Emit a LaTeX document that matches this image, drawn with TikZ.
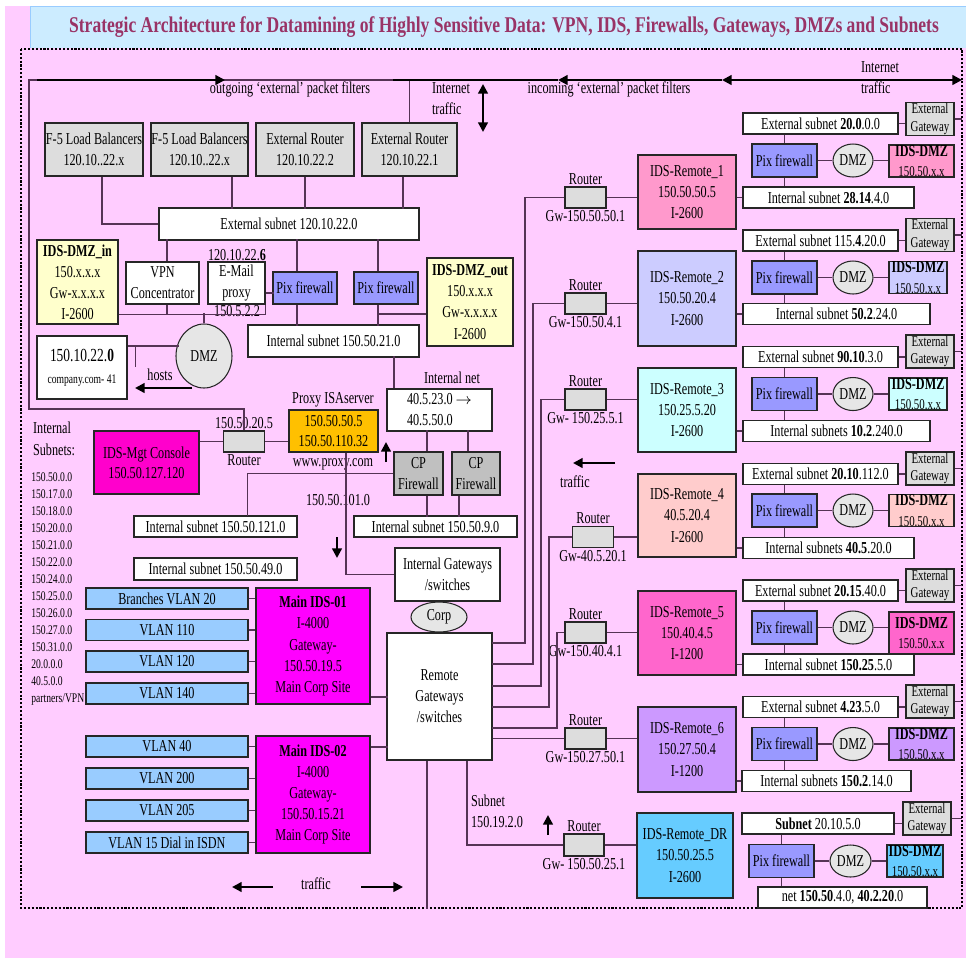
\documentclass[tikz,border=0pt]{standalone}
\usepackage{fontspec}
\setmainfont[FakeStretch=0.73]{Liberation Serif}
\newfontfamily\titlefam[FakeStretch=0.78]{Liberation Serif}
\usetikzlibrary{shapes.geometric, arrows.meta}

\definecolor{pagepink}{HTML}{FFCCFF}
\definecolor{titleblue}{HTML}{CCECFF}
\definecolor{titlered}{HTML}{993366}
\definecolor{boxgrey}{HTML}{DDDDDD}
\definecolor{ovalgrey}{HTML}{E6E6E6}
\definecolor{cpgrey}{HTML}{C0C0C0}
\definecolor{pixblue}{HTML}{9999FF}
\definecolor{paleyellow}{HTML}{FFFFCC}
\definecolor{proxyorange}{HTML}{FFC000}
\definecolor{mgtmagenta}{HTML}{FF00CC}
\definecolor{mainmagenta}{HTML}{FF00FF}
\definecolor{vlanblue}{HTML}{99CCFF}
\definecolor{remA}{HTML}{FF99CC}
\definecolor{remB}{HTML}{CCCCFF}
\definecolor{remC}{HTML}{CCFFFF}
\definecolor{remD}{HTML}{FFCCCC}
\definecolor{remE}{HTML}{FF66CC}
\definecolor{remF}{HTML}{CC99FF}
\definecolor{remG}{HTML}{66CCFF}
\definecolor{wirec}{HTML}{553355}

\newcommand\bxf{\fontsize{9.5}{11.5}\selectfont}
\newcommand\bxfl{\fontsize{9.5}{12}\selectfont}
\newcommand\smf{\fontsize{7.5}{9.67}\selectfont}
\newcommand\gwf{\fontsize{8.5}{10}\selectfont}
\newcommand\ttlf{\titlefam\fontsize{12.8}{14}\selectfont\bfseries}

\begin{document}
\begin{tikzpicture}[x=0.02cm, y=-0.02cm,
    >={Triangle[length=5.5pt,width=5.5pt]},
    base/.style={draw=black!85, line width=0.6pt, inner sep=0pt, align=center, font=\bxf},
    wh/.style 2 args={minimum width=#1*0.02cm, minimum height=#2*0.02cm},
    greybox/.style={base, fill=boxgrey},
    whitebox/.style={base, fill=white},
    pixbox/.style={base, fill=pixblue, wh={65}{33}},
    yellowbox/.style={base, fill=paleyellow, font=\bxfl},
    vlanbox/.style={base, fill=vlanblue, wh={162}{21}},
    routerbox/.style={base, fill=boxgrey, wh={41}{21}},
    gwbox/.style={base, fill=boxgrey, wh={48}{33}, font=\gwf},
    cpbox/.style={base, fill=cpgrey, font=\bxfl},
    oval/.style={ellipse, draw=black!85, line width=0.6pt, fill=ovalgrey, inner sep=0pt, font=\bxf},
    lbl/.style={inner sep=1pt, font=\bxf},
    wire/.style={draw=wirec, line width=0.7pt},
    heavy/.style={line width=1.3pt},
    frame/.style={line width=1.2pt, densely dotted}
  ]
  \useasboundingbox (0,0) rectangle (966,958);
  \fill[pagepink] (5,6) rectangle (966,958);
  \fill[titleblue] (30,6) rectangle (966,48);
  \draw[vlanblue] (30,48) -- (30,6) -- (966,6);
  \node[font=\ttlf, text=titlered, inner sep=0pt] (title) at (504,27)
    {Strategic Architecture for Datamining of Highly Sensitive Data: VPN, IDS, Firewalls, Gateways, DMZs and Subnets};

  % dotted frame
  \draw[frame] (21,49) rectangle (962,908);
  \coordinate (frameR) at (962,0);

  % packet filters at the top
  \node[lbl] (outlbl) at (290,89) {outgoing ‘external’ packet filters};
  \node[lbl] (inlbl) at (609,89) {incoming ‘external’ packet filters};
  \node[lbl, align=left, font=\bxfl] (inetA) at (451,99) {Internet\\traffic};
  \node[lbl, align=left, font=\bxfl] (inetB) at (880,78) {Internet\\traffic};

  % external side
  \node[greybox, wh={98}{53}, font=\bxfl] (lbA) at (94,149.5) {F-5 Load Balancers\\120.10..22.x};
  \node[greybox, wh={97}{53}, font=\bxfl] (lbB) at (199.5,149.5) {F-5 Load Balancers\\120.10..22.x};
  \node[greybox, wh={98}{53}, font=\bxfl] (erA) at (305,149.5) {External Router\\120.10.22.2};
  \node[greybox, wh={95}{53}, font=\bxfl] (erB) at (409.5,149.5) {External Router\\120.10.22.1};
  \node[whitebox, wh={260}{32}] (extsub) at (289,224) {External subnet 120.10.22.0};

  \node[yellowbox, wh={81}{84}] (dmzin) at (77.5,282) {\textbf{IDS-DMZ\_in}\\150.x.x.x\\Gw-x.x.x.x\\I-2600};
  \node[whitebox, wh={73}{42}, font=\bxfl] (vpn) at (162.5,283) {VPN\\Concentrator};
  \node[whitebox, wh={57}{42}, font=\bxfl] (mail) at (236.5,283) {E-Mail\\proxy};
  \node[lbl] (mailip) at (237,255) {120.10.22.\textbf{6}};
  \node[lbl] (mailnet) at (237,311) {150.5.2.2};
  \node[pixbox, wh={64}{32}] (pixA) at (305,288) {Pix firewall};
  \node[pixbox, wh={64}{32}] (pixB) at (386,288) {Pix firewall};
  \node[yellowbox, wh={86}{88}] (dmzout) at (470,302) {\textbf{IDS-DMZ\_out}\\150.x.x.x\\Gw-x.x.x.x\\I-2600};

  \node[oval, wh={56}{64}] (dmzA) at (204,356) {DMZ};
  \node[whitebox, wh={90}{63}] (hosts) at (82,367.5)
    {{\fontsize{10.5}{12}\selectfont 150.10.22.\textbf{0}}\\[1pt]{\smf company.com- 41}};
  \node[lbl] (hostslbl) at (160,375) {hosts};
  \node[whitebox, wh={171}{32}] (intsub21) at (333.5,341) {Internal subnet 150.50.21.0};

  % internal side
  \node[lbl] (intnetlbl) at (452,378) {Internal net};
  \node[whitebox, wh={105}{42}, align=left, font=\bxfl] (intnet) at (439.5,410) {40.5.23.0 $\rightarrow$\\40.5.50.0};
  \node[cpbox, wh={49}{43}] (cpA) at (418.5,473.5) {CP\\Firewall};
  \node[cpbox, wh={48}{43}] (cpB) at (476,473.5) {CP\\Firewall};
  \node[whitebox, wh={163}{21}] (intsub9) at (435.5,526.5) {Internal subnet 150.50.9.0};
  \node[whitebox, wh={163}{21}] (intsub121) at (215.5,526.5) {Internal subnet 150.50.121.0};
  \node[whitebox, wh={163}{22}] (intsub49) at (215.5,569) {Internal subnet 150.50.49.0};

  \node[base, fill=proxyorange, wh={89}{42}] (proxy) at (333.5,431) {150.50.50.5\\150.50.110.32};
  \node[lbl] (proxylbl) at (333,400) {Proxy ISAserver};
  \node[lbl] (proxyurl) at (333,464) {www.proxy.com};
  \node[lbl] (netlbl) at (338,500) {150.50.101.0};
  \node[routerbox, label={[lbl]above:150.50.20.5}, label={[lbl]below:Router}] (routerM) at (244,441.5) {};
  \node[base, fill=mgtmagenta, wh={105}{63}] (mgt) at (146.5,462.5) {IDS-Mgt Console\\150.50.127.120};

  \node[lbl, align=left, anchor=west, font=\fontsize{9.5}{12.5}\selectfont] (sublbl) at (31,439) {Internal\\Subnets:};
  \node[lbl, inner sep=0pt, align=left, anchor=north west, font=\smf] (sublist) at (31,472.5)
    {150.50.0.0\\150.17.0.0\\150.18.0.0\\150.20.0.0\\150.21.0.0\\150.22.0.0\\150.24.0.0\\150.25.0.0\\150.26.0.0\\150.27.0.0\\150.31.0.0\\20.0.0.0\\40.5.0.0\\partners/VPN};

  \node[vlanbox] (v20) at (167,598.5) {Branches VLAN 20};
  \node[vlanbox] (v110) at (167,630) {VLAN 110};
  \node[vlanbox] (v120) at (167,661.5) {VLAN 120};
  \node[vlanbox] (v140) at (167,693.5) {VLAN 140};
  \node[vlanbox] (v40) at (167,746.5) {VLAN 40};
  \node[vlanbox] (v200) at (167,778.5) {VLAN 200};
  \node[vlanbox] (v205) at (167,810.5) {VLAN 205};
  \node[vlanbox] (v15) at (167,842.5) {VLAN 15 Dial in ISDN};
  \node[base, fill=mainmagenta, wh={114}{116}, font=\bxfl] (main1) at (313,646)
    {\textbf{Main IDS-01}\\I-4000\\Gateway-\\150.50.19.5\\Main Corp Site};
  \node[base, fill=mainmagenta, wh={114}{117}, font=\bxfl] (main2) at (313,794.5)
    {\textbf{Main IDS-02}\\I-4000\\Gateway-\\150.50.15.21\\Main Corp Site};

  \node[whitebox, wh={105}{53}, font=\bxfl] (intgw) at (447.5,574.5) {Internal Gateways\\/switches};
  \node[oval, wh={56}{30}] (corp) at (439,617) {Corp};
  \node[whitebox, wh={105}{127}, font=\bxfl] (remgw) at (439.5,696.5) {Remote\\Gateways\\/switches};
  \node[lbl, align=left, anchor=west, font=\bxfl] (drsub) at (469,811) {Subnet\\150.19.2.0};
  \node[lbl] (trafficA) at (316,884) {traffic};
  \node[lbl] (trafficB) at (575,482) {traffic};

  % routers and remote IDS
  \node[routerbox, label={[lbl]above:Router}, label={[lbl]below:Gw-150.50.50.1}] (r1) at (585.5,197.5) {};
  \node[routerbox, label={[lbl]above:Router}, label={[lbl]below:Gw-150.50.4.1}] (r2) at (585.5,303.5) {};
  \node[routerbox, label={[lbl]above:Router}, label={[lbl]below:Gw- 150.25.5.1}] (r3) at (585.5,399.5) {};
  \node[routerbox, label={[lbl]above:Router}, label={[lbl]below:Gw-40.5.20.1}] (r4) at (593,537) {};
  \node[routerbox, label={[lbl]above:Router}, label={[lbl]below:Gw-150.40.4.1}] (r5) at (585.5,632.5) {};
  \node[routerbox, label={[lbl]above:Router}, label={[lbl]below:Gw-150.27.50.1}] (r6) at (585.5,738.5) {};
  \node[routerbox, wh={40}{22}, label={[lbl]above:Router}, label={[lbl]below:Gw- 150.50.25.1}] (r7) at (584,845) {};

  \node[base, fill=remA, wh={98}{74}, font=\bxfl] (ids1) at (687,192) {IDS-Remote\_1\\150.50.50.5\\I-2600};
  \node[base, fill=remB, wh={98}{95}, font=\bxfl] (ids2) at (687,298.5) {IDS-Remote\_2\\150.50.20.4\\I-2600};
  \node[base, fill=remC, wh={98}{84}, font=\bxfl] (ids3) at (687,410) {IDS-Remote\_3\\150.25.5.20\\I-2600};
  \node[base, fill=remD, wh={98}{83}, font=\bxfl] (ids4) at (687,515.5) {IDS-Remote\_4\\40.5.20.4\\I-2600};
  \node[base, fill=remE, wh={98}{84}, font=\bxfl] (ids5) at (687,633) {IDS-Remote\_5\\150.40.4.5\\I-1200};
  \node[base, fill=remF, wh={98}{85}, font=\bxfl] (ids6) at (687,749.5) {IDS-Remote\_6\\150.27.50.4\\I-1200};
  \node[base, fill=remG, wh={96}{85}, font=\bxfl] (ids7) at (685,855.5) {IDS-Remote\_DR\\150.50.25.5\\I-2600};

  % remote site 1
  \node[whitebox, wh={155}{21}] (ext1) at (820.5,123.5) {External subnet \textbf{20.0}.0.0};
  \node[gwbox] (gw1) at (930,119) {External\\Gateway};
  \node[pixbox] (pix1) at (784.5,160.5) {Pix firewall};
  \node[oval, wh={40}{33}] (dmz1) at (853,160.5) {DMZ};
  \node[base, fill=remA, wh={65}{32}] (idz1) at (921.5,161) {\textbf{IDS-DMZ}\\{\gwf 150.50.x.x}};
  \node[whitebox, wh={171}{21}] (int1) at (828.5,197.5) {Internal subnet \textbf{28.14}.4.0};
  % remote site 2
  \node[whitebox, wh={155}{21}] (ext2) at (820.5,240.5) {External subnet 115.\textbf{4}.20.0};
  \node[gwbox] (gw2) at (930,235) {External\\Gateway};
  \node[pixbox] (pix2) at (784.5,277.5) {Pix firewall};
  \node[oval, wh={40}{33}] (dmz2) at (853,277.5) {DMZ};
  \node[base, fill=remB, wh={58}{32}] (idz2) at (918,277.5) {\textbf{IDS-DMZ}\\{\gwf 150.50.x.x}};
  \node[whitebox, wh={187}{21}] (int2) at (836.5,314) {Internal subnet \textbf{50.2}.24.0};
  % remote site 3
  \node[whitebox, wh={155}{21}] (ext3) at (820.5,357) {External subnet \textbf{90.10}.3.0};
  \node[gwbox] (gw3) at (930,351.5) {External\\Gateway};
  \node[pixbox] (pix3) at (784.5,394) {Pix firewall};
  \node[oval, wh={40}{33}] (dmz3) at (853,394) {DMZ};
  \node[base, fill=remC, wh={58}{32}] (idz3) at (918,394) {\textbf{IDS-DMZ}\\{\gwf 150.50.x.x}};
  \node[whitebox, wh={187}{21}] (int3) at (836.5,431) {Internal subnets \textbf{10.2}.240.0};
  % remote site 4
  \node[whitebox, wh={155}{21}] (ext4) at (820.5,474) {External subnet \textbf{20.10}.112.0};
  \node[gwbox] (gw4) at (930,468.5) {External\\Gateway};
  \node[pixbox] (pix4) at (784.5,510.5) {Pix firewall};
  \node[oval, wh={40}{33}] (dmz4) at (853,510.5) {DMZ};
  \node[base, fill=remD, wh={65}{32}] (idz4) at (921.5,510.5) {\textbf{IDS-DMZ}\\{\gwf 150.50.x.x}};
  \node[whitebox, wh={171}{21}] (int4) at (828.5,548) {Internal subnets \textbf{40.5}.20.0};
  % remote site 5
  \node[whitebox, wh={155}{21}] (ext5) at (820.5,590.5) {External subnet \textbf{20.15}.40.0};
  \node[gwbox] (gw5) at (930,585.5) {External\\Gateway};
  \node[pixbox] (pix5) at (784.5,627.5) {Pix firewall};
  \node[oval, wh={40}{33}] (dmz5) at (853,627.5) {DMZ};
  \node[base, fill=remE, wh={65}{42}] (idz5) at (921.5,633) {\textbf{IDS-DMZ}\\{\gwf 150.50.x.x}};
  \node[whitebox, wh={171}{21}] (int5) at (828.5,664.5) {Internal subnet \textbf{150.25}.5.0};
  % remote site 6
  \node[whitebox, wh={155}{21}] (ext6) at (820.5,707) {External subnet \textbf{4.23}.5.0};
  \node[gwbox] (gw6) at (930,701.5) {External\\Gateway};
  \node[pixbox] (pix6) at (784.5,744) {Pix firewall};
  \node[oval, wh={40}{33}] (dmz6) at (853,744) {DMZ};
  \node[base, fill=remF, wh={65}{32}] (idz6) at (921.5,744) {\textbf{IDS-DMZ}\\{\gwf 150.50.x.x}};
  \node[whitebox, wh={169}{21}] (int6) at (826.5,781) {Internal subnets \textbf{150.2}.14.0};
  % disaster recovery site
  \node[whitebox, wh={152}{21}] (ext7) at (818,823.5) {\textbf{Subnet} 20.10.5.0};
  \node[gwbox] (gw7) at (927,818.5) {External\\Gateway};
  \node[pixbox] (pix7) at (781.5,861) {Pix firewall};
  \node[oval, wh={41}{32}] (dmz7) at (850.5,861) {DMZ};
  \node[base, fill=remG, wh={56}{32}] (idz7) at (915,861) {\textbf{IDS-DMZ}\\{\gwf 150.50.x.x}};
  \node[whitebox, wh={169}{21}] (int7) at (842.5,897.5) {net \textbf{150.50}.4.0, \textbf{40.2.20}.0};

  % wiring, external side
  \draw[wire] (erB.north) |- (29,80) -- (29,409) -| (routerM.north);
  \draw[wire] (lbA.south) ++(8,0) |- (extsub.west);
  \draw[wire] (lbB.south) ++(32.5,0) -- ++(0,32);
  \draw[wire] (erA.south) -- ++(0,32);
  \draw[wire] (erB.south) ++(-6.5,0) -- ++(0,32);
  \draw[wire] (vpn.north) ++(4.5,0) -- ++(0,-22);
  \draw[wire] (pixA.north) ++(-8,0) -- ++(0,-32);
  \draw[wire] (pixB.north) ++(-8,0) -- ++(0,-32);
  \draw[wire] (mail.east) ++(0,10) -- ++(8,0);
  \draw[wire] (dmzin.south east) ++(0,-10) -| (mail.south east);
  \draw[wire] (vpn.south) ++(4.5,0) -- ++(0,10);
  \draw[wire] (dmzA.north) -- ++(0,-10);
  \draw[wire] (hosts.east) ++(0,-21.5) -- ++(51,0);
  \draw[wire] (hosts.east) ++(8,-21.5) -- ++(0,21);
  \draw[wire] (pixA.south) ++(-8,0) -- ++(0,21);
  \draw[wire] (pixB.south) ++(-8,0) -- ++(0,21);
  \draw[wire] (dmzout.west) ++(0,12) -- ++(-49,0);

  % wiring, internal side
  \draw[wire] (intnet.north) ++(-45.5,0) -- ++(0,-32);
  \draw[wire] (cpA.north) ++(8.5,0) -- ++(0,-21);
  \draw[wire] (cpB.north) ++(-8,0) -- ++(0,-21);
  \draw[wire] (cpA.south) ++(8.5,0) -- ++(0,21);
  \draw[wire] (cpB.south) ++(-17,0) -- ++(0,21);
  \draw[wire] (cpA.west) -- ++(-146,0) -- ++(0,42.5);
  \draw[wire] (routerM.east) -- (routerM.east -| proxy.west);
  \draw[wire] (routerM.west) -- (routerM.west -| mgt.east);
  \draw[wire] (proxy.south) ++(12.5,0) |- (intgw.west);
  \foreach \v in {v20,v110,v120,v140}
    \draw[wire] (\v.east) -- (\v.east -| main1.west);
  \foreach \v in {v40,v200,v205,v15}
    \draw[wire] (\v.east) -- (\v.east -| main2.west);
  \draw[wire] (main1.east) ++(0,51) -- ++(17,0);
  \draw[wire] (main2.east) ++(0,-47.5) -- ++(17,0);
  \draw[wire] (remgw.south) ++(-12.5,0) -- ++(0,148);
  \draw[wire] (remgw.south) ++(27.5,0) |- (r7.west);

  % wiring, remote gateways to routers
  \draw[wire] (r1.west) -| (525,643) -- ++(-33,0);
  \draw[wire] (r2.west) -| (533,664) -- ++(-41,0);
  \draw[wire] (r3.west) -| (541,686) -- ++(-49,0);
  \draw[wire] (r4.west) -| (549,707) -- ++(-57,0);
  \draw[wire] (r5.west) -| (557,728) -- ++(-65,0);
  \draw[wire] (r6.west) -- (r6.west -| remgw.east);
  \foreach \s in {1,...,7} {
    \draw[wire] (r\s.east) -- (r\s.east -| ids\s.west);
    \draw[wire] (ext\s.east) -- (ext\s.east -| gw\s.west);
    \draw[wire] (gw\s.east) -- (gw\s.east -| frameR);
    \draw[wire] (pix\s.north) -- (pix\s.north |- ext\s.south);
    \draw[wire] (pix\s.south) -- (pix\s.south |- int\s.north);
    \draw[wire] (pix\s.east) -- (dmz\s.west);
    \draw[wire] (dmz\s.east) -- (dmz\s.east -| idz\s.west);
  }
  \foreach \s in {1,...,6}
    \draw[wire] (ids\s.east |- int\s.west) -- (int\s.west);

  % traffic arrows
  \draw[heavy, ->] (37,80) -- (225,80);
  \draw[heavy] (393,80) -- (558,80);
  \draw[heavy, <-] (558,80) -- (722,80);
  \draw[heavy, <->] (722,80) -- (962,80);
  \draw[heavy, <->] (483,84) -- (483,132);
  \draw[heavy, ->] (192,388) -- (135,388);
  \draw[heavy, ->] (386,462) -- (386,442);
  \draw[heavy, ->] (337,537) -- (337,558);
  \draw[heavy, ->] (615,463) -- (573,463);
  \draw[heavy, ->] (548,835) -- (548,815);
  \draw[heavy, ->] (273,887) -- (232,887);
  \draw[heavy, ->] (361,887) -- (403,887);
\end{tikzpicture}
\end{document}
